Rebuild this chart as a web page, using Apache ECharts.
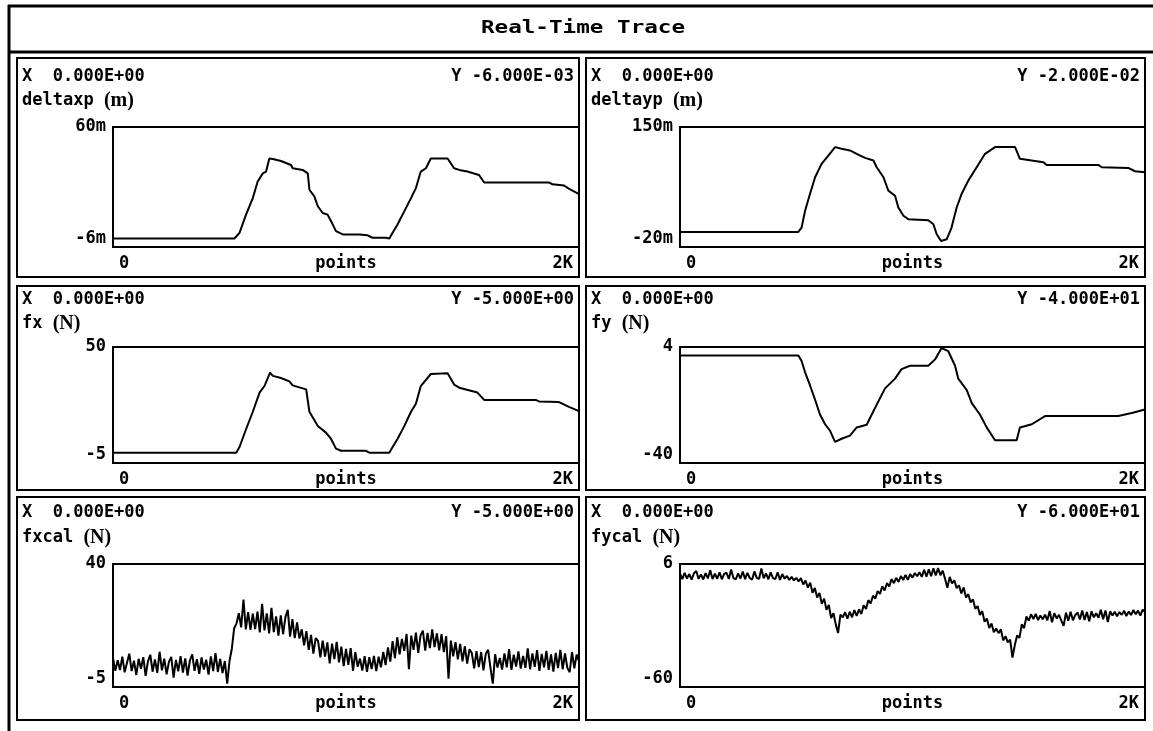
<!DOCTYPE html>
<html><head><meta charset="utf-8">
<script src="https://cdn.jsdelivr.net/npm/echarts@6/dist/echarts.min.js"></script>
<style>html,body{margin:0;padding:0;background:#fff}#c{width:1153px;height:731px}</style>
</head><body><div id="c"></div><script>
// ---------- data ----------
const chartTitle = 'Real-Time Trace';
const xTickLabels = ['0', '2K'];
const xAxisName = 'points';
const xMin = 0, xMax = 2000;
const noisyStep = 10; // sample spacing (points) of the noisy traces

const deltaxpX = [0,521,543,571,600,621,643,657,671,686,721,764,771,814,836,843,864,879,900,921,936,957,986,1057,1093,1114,1171,1186,1200,1221,1250,1279,1300,1321,1343,1364,1436,1464,1486,1521,1571,1593,1871,1886,1936,1964,2000];
const deltaxpY = [-1.3,-1.3,1.8,11.8,20.9,30,34.5,35.5,42.7,42.4,41.3,39.1,37.3,36.4,34.5,25.5,21.8,16.4,12.7,11.8,8.2,2.7,0.9,0.9,0.4,-0.9,-0.9,-1.3,1.8,6.4,13.6,20.9,26.4,35.5,37.3,42.7,42.7,37.3,36.4,35.5,33.6,29.5,29.5,28.5,27.8,25.5,23.1];

const deltaypX = [0,509,523,538,559,581,609,638,667,695,731,760,796,832,846,875,896,925,939,961,982,1068,1090,1104,1123,1147,1168,1190,1211,1240,1276,1312,1355,1441,1462,1563,1577,1799,1814,1928,1957,2000];
const deltaypY = [1.4,1.4,7.5,31.3,55,78.8,97.8,109.6,121.5,119.1,116.8,112,106.3,102.5,93,78.8,59.8,52.6,36,24.2,19.4,18,12.3,-2,-11.5,-9.1,7.5,36,55,74,93,112,121.5,121.5,104.9,100.1,96.3,96.3,93,92,87.3,85.9];

const fxX = [0,529,543,571,600,629,650,674,686,721,757,771,829,843,879,914,936,957,979,1086,1100,1186,1200,1221,1250,1279,1300,1321,1364,1436,1464,1486,1564,1593,1814,1829,1914,1957,2000];
const fxY = [-0.1,-0.1,2.6,11,19.3,28.4,31.5,37.8,36.3,35.3,33.7,31.8,29.9,19.3,12.5,9.4,6.4,1.8,0.8,0.8,-0.1,-0.1,2.6,6.4,12.5,19.3,23.1,31.5,37.2,37.5,32.2,30.7,28.4,24.9,24.9,24.2,23.9,21.6,19.6];

const fyX = [0,509,523,538,559,581,602,624,645,667,695,731,760,803,839,882,925,953,989,1068,1097,1125,1154,1183,1197,1233,1255,1290,1319,1355,1448,1462,1513,1570,1885,1943,2000];
const fyY = [0.8,0.8,-1.3,-5.6,-10.5,-16,-21.6,-25.3,-27.7,-32,-30.8,-29.6,-26.5,-25.5,-19.1,-11.7,-8,-4.4,-3.1,-3.1,-0.7,3.6,2.4,-3.1,-8,-12.3,-17.3,-21.6,-26.5,-31.4,-31.4,-26.5,-25.3,-22.2,-22.2,-21,-19.7];

const fxcalY = [
 5.6,0.9,4.8,1.2,6.1,0.4,3.9,7.2,0.8,4.6,
 -0.6,5.3,1.7,5.9,-0.9,4.4,6.8,0.6,5.1,0.2,
 7.9,1.1,5.4,-0.4,4.2,6.0,-1.6,4.9,0.7,6.3,
 0.3,5.5,-0.8,4.7,6.9,0.9,5.2,-0.2,5.8,1.4,
 5.0,-0.5,6.2,0.8,7.4,0.5,5.3,0.1,4.5,-3.8,
 4.5,9.0,16.5,18.2,22.0,
 16.8,27.0,16.1,22.4,15.9,21.8,16.2,22.6,15.0,25.4,
 15.7,21.9,14.6,24.0,15.1,20.8,13.8,21.2,14.3,20.6,
 23.2,13.4,19.8,12.9,18.6,12.7,
 16.1,10.2,15.4,8.6,14.1,7.2,12.9,
 11.9,5.8,12.0,6.1,11.3,3.6,10.9,5.2,11.5,4.0,
 9.8,2.6,8.9,3.1,9.2,0.9,7.8,2.4,
 5.4,1.0,6.3,0.5,5.9,1.6,6.4,0.8,6.1,2.2,
 7.8,3.0,9.5,4.3,11.8,5.6,13.2,6.9,
 12.6,8.2,14.4,1.5,13.8,8.6,14.9,7.5,13.9,15.6,
 8.3,14.8,9.2,16.1,9.6,14.6,8.4,14.3,7.8,13.6,
 -2.0,12.0,6.2,11.4,5.1,10.8,4.4,9.9,3.6,8.8,
 7.4,1.8,8.1,2.3,7.8,1.1,7.2,8.6,2.0,-3.8,
 7.0,2.1,5.6,1.4,7.3,2.2,8.9,1.3,6.8,2.5,
 8.0,1.7,6.4,2.0,9.1,1.5,7.3,2.4,8.5,0.9,
 7.1,2.2,8.2,1.3,6.9,0.6,7.5,1.9,8.6,1.5,
 7.3,2.0,0.4,7.8,1.8,6.9,4.4
];

const fycalY = [
 0.9,-2.1,1.2,-1.8,0.6,-2.4,1.0,2.2,-2.0,0.4,
 -2.3,1.1,-1.7,2.6,-2.1,0.8,-1.9,1.5,-2.2,0.7,
 1.3,-2.0,3.1,-1.6,-2.3,1.0,-1.8,1.9,-2.1,1.2,
 -1.5,-2.4,2.0,-1.4,-2.0,3.6,-1.7,1.0,-2.2,1.5,
 -1.6,-2.1,1.6,-2.5,0.6,-1.9,-0.4,-2.6,-0.9,-2.8,
 -1.4,
 -3.4,-1.6,-5.0,-2.9,-6.7,-4.0,-9.4,-6.9,-12.0,-9.5,
 -15.4,-12.6,-18.6,-16.0,-23.0,-20.4,-26.4,-31.0,-21.2,-22.6,
 -19.8,-23.4,-19.6,-22.6,-18.7,-21.9,-18.3,-20.8,-16.1,-18.2,
 -13.4,-15.2,-11.0,-12.6,-8.5,-10.1,-6.0,-8.2,-4.3,-6.0,-2.1,-4.3,
 -1.4,-3.6,-0.5,-2.6,0.2,-2.5,0.6,-1.3,1.2,-0.6,
 1.6,-0.9,2.9,-0.8,3.2,-0.6,3.7,-0.2,
 3.8,0.0,2.4,-1.9,-6.8,
 -0.9,-4.4,-2.8,-7.0,-5.4,-9.8,-6.6,-12.0,-10.2,-14.6,
 -12.9,-18.0,-16.6,-21.3,-19.3,-25.0,-23.3,-28.3,-25.9,-30.6,
 -28.6,-31.1,-29.0,-35.0,-32.7,-36.1,-34.6,
 -44.2,-37.5,
 -32.4,-33.6,-26.4,-28.4,-22.2,-24.4,
 -21.0,-23.5,-20.8,-24.1,-21.6,-23.7,-21.2,-24.2,-19.2,-25.3,
 -20.4,-23.2,-21.3,-24.4,-27.2,-20.1,-24.5,-19.6,-24.2,-21.4,
 -20.0,-23.8,-18.9,-24.0,-19.8,-24.7,-19.4,-22.6,-20.4,-22.8,
 -18.6,-23.7,-18.9,-25.2,-19.4,-21.6,-19.6,-22.1,-19.8,-21.3,
 -19.1,-21.9,-19.5,-21.4,-18.7,-21.0,-19.0,-21.7,-18.5,-19.7
];

const panelNames  = ['deltaxp', 'deltayp', 'fx', 'fy', 'fxcal', 'fycal'];
const panelUnits  = ['(m)', '(m)', '(N)', '(N)', '(N)', '(N)'];
const headerX     = ['0.000E+00','0.000E+00','0.000E+00','0.000E+00','0.000E+00','0.000E+00'];
const headerY     = ['-6.000E-03','-2.000E-02','-5.000E+00','-4.000E+01','-5.000E+00','-6.000E+01'];
const yMins       = [-6, -20, -5, -40, -5, -60];
const yMaxs       = [60, 150, 50, 4, 40, 6];
const yTickLabels = [['-6m','60m'], ['-20m','150m'], ['-5','50'], ['-40','4'], ['-5','40'], ['-60','6']];

// ---------- layout ----------
const MONO = '"DejaVu Sans Mono", "Liberation Mono", monospace';
const SERIF = '"Liberation Serif", "DejaVu Serif", serif';
const FS = 17;
const cols = [{l: 17, r: 579, pl: 113}, {l: 586, r: 1145, pl: 680}];
const rows = [
  {t: 58,  b: 277, pt: 127, pb: 247, hx: 77,  hn: 101},
  {t: 286, b: 490, pt: 347, pb: 463, hx: 300, hn: 324},
  {t: 497, b: 720, pt: 564, pb: 687, hx: 513, hn: 538}
];

const seriesData = [
  deltaxpX.map((x, i) => [x, deltaxpY[i]]),
  deltaypX.map((x, i) => [x, deltaypY[i]]),
  fxX.map((x, i) => [x, fxY[i]]),
  fyX.map((x, i) => [x, fyY[i]]),
  fxcalY.map((v, i) => [i * noisyStep, v]),
  fycalY.map((v, i) => [i * noisyStep, v])
];
const lineWidths = [2, 2, 2, 2, 2, 2];

const grids = [], xAxes = [], yAxes = [], series = [], graphics = [];
const txt = (size) => ({fontFamily: MONO, fontWeight: 'bold', fontSize: size, color: '#000'});

// outer frame
graphics.push({type: 'line', shape: {x1: 8, y1: 6, x2: 1153, y2: 6}, style: {stroke: '#000', lineWidth: 3}});
graphics.push({type: 'line', shape: {x1: 9, y1: 5, x2: 9, y2: 731}, style: {stroke: '#000', lineWidth: 3}});
graphics.push({type: 'line', shape: {x1: 8, y1: 52, x2: 1153, y2: 52}, style: {stroke: '#000', lineWidth: 3}});
graphics.push({type: 'text', x: 583, y: 29, scaleX: 1.33, scaleY: 1,
  style: {text: chartTitle, x: 0, y: 0, align: 'center', verticalAlign: 'middle',
  font: 'bold 17px ' + MONO, fill: '#000'}});

for (let i = 0; i < 6; i++) {
  const c = cols[i % 2], r = rows[Math.floor(i / 2)];
  graphics.push({type: 'rect', shape: {x: c.l, y: r.t, width: c.r - c.l, height: r.b - r.t},
    style: {fill: null, stroke: '#000', lineWidth: 2}});
  graphics.push({type: 'text', style: {text: 'X  ' + headerX[i], x: c.l + 5, y: r.hx, align: 'left',
    verticalAlign: 'middle', font: 'bold ' + FS + 'px ' + MONO, fill: '#000'}});
  graphics.push({type: 'text', style: {text: 'Y ' + headerY[i], x: c.r - 5, y: r.hx, align: 'right',
    verticalAlign: 'middle', font: 'bold ' + FS + 'px ' + MONO, fill: '#000'}});
  graphics.push({type: 'text', style: {text: '{a|' + panelNames[i] + ' }{b|' + panelUnits[i] + '}',
    x: c.l + 5, y: r.hn, align: 'left', verticalAlign: 'middle',
    rich: {a: {font: 'bold ' + FS + 'px ' + MONO, fill: '#000'}, b: {font: 'bold 20px ' + SERIF, fill: '#000'}}}});

  grids.push({left: c.pl, top: r.pt, width: c.r - c.pl, height: r.pb - r.pt, show: true,
    borderColor: '#000', borderWidth: 2, backgroundColor: 'transparent', containLabel: false});
  const lo = yMins[i], hi = yMaxs[i], labs = yTickLabels[i];
  xAxes.push({gridIndex: i, type: 'value', min: xMin, max: xMax, interval: xMax - xMin,
    axisLine: {show: false}, axisTick: {show: false}, splitLine: {show: false},
    axisLabel: Object.assign(txt(FS), {margin: 8, padding: [0, 6, 0, 6], alignMinLabel: 'left', alignMaxLabel: 'right',
      formatter: v => (v === xMin ? xTickLabels[0] : xTickLabels[1])}),
    name: xAxisName, nameLocation: 'middle', nameGap: 8, nameMoveOverlap: false,
    nameTextStyle: Object.assign(txt(FS), {verticalAlign: 'top'})});
  yAxes.push({gridIndex: i, type: 'value', min: lo, max: hi, interval: hi - lo,
    axisLine: {show: false}, axisTick: {show: false}, splitLine: {show: false},
    axisLabel: Object.assign(txt(FS), {margin: 7, verticalAlignMinLabel: 'bottom', verticalAlignMaxLabel: 'middle',
      formatter: v => (v === lo ? labs[0] : labs[1])})});
  series.push({type: 'line', xAxisIndex: i, yAxisIndex: i, data: seriesData[i], showSymbol: false,
    symbol: 'none', clip: true, lineStyle: {color: '#000', width: lineWidths[i]}, silent: true});
}

const chart = echarts.init(document.getElementById('c'), null, {renderer: 'canvas'});
chart.setOption({
  animation: false,
  backgroundColor: '#fff',
  grid: grids, xAxis: xAxes, yAxis: yAxes, series: series,
  graphic: {elements: graphics}
});
</script></body></html>
